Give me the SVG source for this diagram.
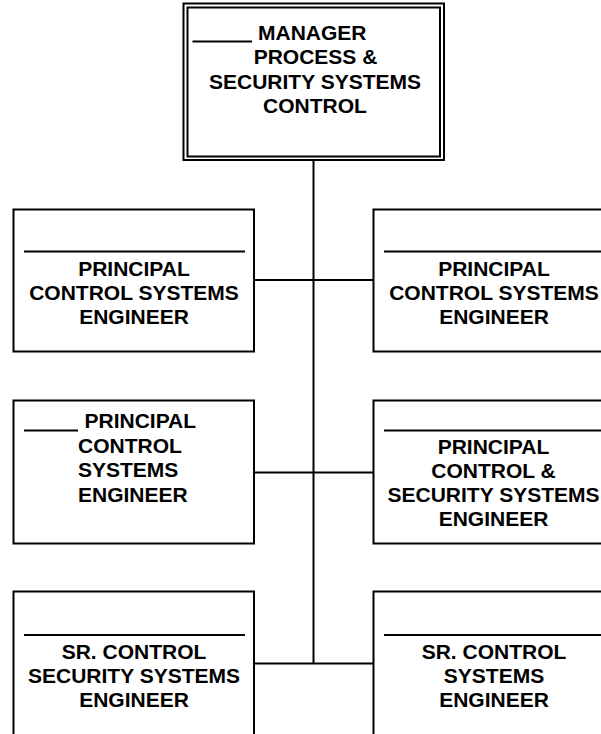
<svg xmlns="http://www.w3.org/2000/svg" width="601" height="734" viewBox="0 0 601 734">
<style>
.box{fill:#fff;stroke:#000;stroke-width:2}
.rule{stroke:#000;stroke-width:1.8;fill:none}
.conn{stroke:#000;stroke-width:2;fill:none}
text{font-family:"Liberation Sans",Arial,sans-serif;font-weight:bold;font-size:21px;fill:#000}
.c{text-anchor:middle}
</style>
<rect width="601" height="734" fill="#fff"/>
<g id="connectors">
<line class="conn" x1="313.5" y1="160" x2="313.5" y2="664"/>
<line class="conn" x1="254" y1="280" x2="374" y2="280"/>
<line class="conn" x1="254" y1="472.5" x2="374" y2="472.5"/>
<line class="conn" x1="254" y1="663.5" x2="374" y2="663.5"/>
</g>
<g id="manager">
<rect class="box" x="183.5" y="3.5" width="260.5" height="156.5" stroke-width="1.8"/>
<rect class="box" x="187.5" y="7.5" width="252.5" height="149" stroke-width="1.8"/>
<line class="rule" x1="192.5" y1="41.5" x2="252" y2="41.5"/>
<text x="258" y="39.5">MANAGER</text>
<text class="c" x="315.5" y="64">PROCESS &amp;</text>
<text class="c" x="315" y="88.5">SECURITY SYSTEMS</text>
<text class="c" x="315" y="113">CONTROL</text>
</g>
<g id="principal-l1">
<rect class="box" x="13.5" y="209.5" width="240.5" height="142"/>
<line class="rule" x1="24" y1="251.5" x2="245" y2="251.5"/>
<text class="c" x="134" y="275.5">PRINCIPAL</text>
<text class="c" x="134" y="299.5">CONTROL SYSTEMS</text>
<text class="c" x="134" y="323.5">ENGINEER</text>
</g>
<g id="principal-r1">
<rect class="box" x="373.5" y="209.5" width="241" height="142"/>
<line class="rule" x1="384" y1="251.5" x2="605" y2="251.5"/>
<text class="c" x="494" y="275.5">PRINCIPAL</text>
<text class="c" x="494" y="299.5">CONTROL SYSTEMS</text>
<text class="c" x="494" y="323.5">ENGINEER</text>
</g>
<g id="principal-l2">
<rect class="box" x="13.5" y="400.5" width="240.5" height="143"/>
<line class="rule" x1="24" y1="430.5" x2="78" y2="430.5"/>
<text x="84.5" y="428">PRINCIPAL</text>
<text x="78" y="452.5">CONTROL</text>
<text x="78" y="477">SYSTEMS</text>
<text x="78" y="501.5">ENGINEER</text>
</g>
<g id="principal-r2">
<rect class="box" x="373.5" y="400.5" width="241" height="143"/>
<line class="rule" x1="384" y1="430.5" x2="605" y2="430.5"/>
<text class="c" x="493.5" y="453.5">PRINCIPAL</text>
<text class="c" x="493.5" y="477.5">CONTROL &amp;</text>
<text class="c" x="493.5" y="501.5">SECURITY SYSTEMS</text>
<text class="c" x="493.5" y="525.5">ENGINEER</text>
</g>
<g id="sr-l3">
<rect class="box" x="13.5" y="591.5" width="240.5" height="160"/>
<line class="rule" x1="24" y1="635" x2="245" y2="635"/>
<text class="c" x="134" y="658.5">SR. CONTROL</text>
<text class="c" x="134" y="682.5">SECURITY SYSTEMS</text>
<text class="c" x="134" y="706.5">ENGINEER</text>
</g>
<g id="sr-r3">
<rect class="box" x="373.5" y="591.5" width="241" height="160"/>
<line class="rule" x1="384" y1="635" x2="605" y2="635"/>
<text class="c" x="494" y="658.5">SR. CONTROL</text>
<text class="c" x="494" y="682.5">SYSTEMS</text>
<text class="c" x="494" y="706.5">ENGINEER</text>
</g>
</svg>
